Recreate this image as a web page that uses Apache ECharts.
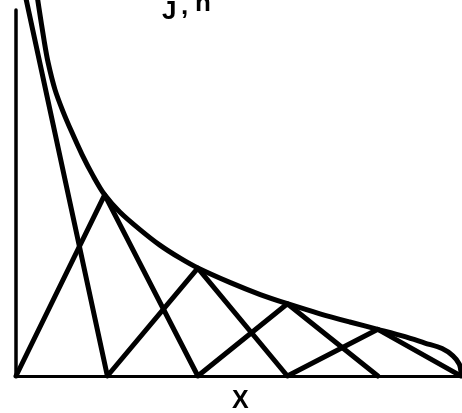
<!DOCTYPE html>
<html>
<head>
<meta charset="utf-8">
<style>
  html, body { margin: 0; padding: 0; background: #fff; }
  #chart { width: 462px; height: 413px; }
</style>
<script src="https://cdn.jsdelivr.net/npm/echarts@6/dist/echarts.min.js"></script>
</head>
<body>
<div id="chart"></div>
<script>
// Envelope curve J(x)
const curveX = [0.166, 0.254, 0.31, 0.354, 0.431, 0.52, 0.619, 0.73, 0.851, 0.98, 1.15, 1.37, 1.59, 1.81, 2.01, 2.37, 2.70, 3.0, 3.36, 3.69, 4.0, 4.30, 4.52, 4.71, 4.83, 4.90, 4.92];
const curveY = [4.60, 4.02, 3.67, 3.43, 3.13, 2.89, 2.66, 2.42, 2.19, 1.98, 1.79, 1.60, 1.43, 1.29, 1.18, 1.02, 0.89, 0.79, 0.68, 0.59, 0.51, 0.43, 0.36, 0.30, 0.22, 0.13, 0.03];

// First zigzag path, starting from the origin
const zigAX = [0, 0.98, 2.01, 3.0, 4.0];
const zigAY = [0, 1.98, 0, 0.79, 0];

// Second zigzag path, starting high on the vertical axis
const zigBX = [0, 1.01, 2.01, 3.0, 4.0, 4.92];
const zigBY = [4.63, 0, 1.18, 0, 0.51, 0];

const xMax = 4.93;
const yMax = 4;

const pairs = (xs, ys) => xs.map((x, i) => [x, ys[i]]);

const chart = echarts.init(document.getElementById('chart'), null, { renderer: 'canvas' });

const strokeStyle = { color: '#000', width: 5, cap: 'round', join: 'round' };
const labelStyle = (text, size) => ({
  text, fill: '#000', fontFamily: 'Liberation Sans', fontWeight: 'bold', fontSize: size
});

chart.setOption({
  backgroundColor: '#fff',
  animation: false,
  grid: { left: 16, right: 0, top: 10, bottom: 37 },
  xAxis: {
    type: 'value', min: 0, max: xMax,
    axisLine: { show: true, onZero: false, lineStyle: { color: '#000', width: 3 } },
    axisTick: { show: false }, axisLabel: { show: false }, splitLine: { show: false }
  },
  yAxis: {
    type: 'value', min: 0, max: yMax,
    axisLine: { show: true, lineStyle: { color: '#000', width: 3.5 } },
    axisTick: { show: false }, axisLabel: { show: false }, splitLine: { show: false }
  },
  series: [
    {
      type: 'line', data: pairs(curveX, curveY), smooth: 0.3, showSymbol: false,
      clip: false, lineStyle: strokeStyle
    },
    {
      type: 'line', data: pairs(zigAX, zigAY), showSymbol: false,
      clip: false, lineStyle: strokeStyle
    },
    {
      type: 'line', data: pairs(zigBX, zigBY), showSymbol: false,
      clip: false, lineStyle: strokeStyle
    }
  ],
  graphic: [
    { type: 'text', left: 162, top: -1, style: labelStyle('J', 26) },
    { type: 'text', left: 181, top: -6, style: labelStyle(',', 26) },
    { type: 'text', left: 195, top: -9, style: labelStyle('n', 26) },
    { type: 'text', left: 232, top: 389, style: labelStyle('X', 25) }
  ]
});
</script>
</body>
</html>
